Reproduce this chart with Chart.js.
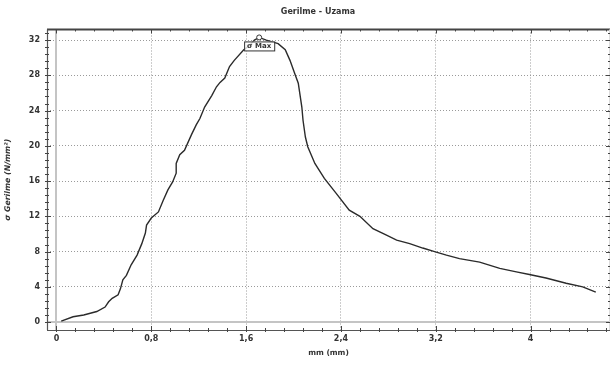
<!DOCTYPE html>
<html>
<head>
<meta charset="utf-8">
<title>Gerilme - Uzama</title>
<script src="https://cdn.jsdelivr.net/npm/chart.js@4.4.1/dist/chart.umd.min.js"></script>
<style>
  html, body { margin: 0; padding: 0; background: #fff; }
  #wrap { width: 612px; height: 367px; position: relative; }
</style>
</head>
<body>
<div id="wrap"><canvas id="chart"></canvas></div>
<script>
// uzama (mm) ve gerilme (N/mm²)
const strain = [0.04, 0.14, 0.23, 0.34, 0.41, 0.44, 0.47, 0.52, 0.54, 0.56, 0.59, 0.63, 0.68, 0.72, 0.75, 0.76,
  0.80, 0.86, 0.90, 0.94, 0.98, 1.01, 1.01, 1.04, 1.08, 1.14, 1.18, 1.21, 1.25, 1.31, 1.35, 1.38, 1.42, 1.46,
  1.50, 1.58, 1.63, 1.67, 1.71, 1.77, 1.87, 1.93, 1.97, 2.01, 2.04, 2.07, 2.08, 2.10, 2.12, 2.18, 2.26, 2.36,
  2.47, 2.56, 2.67, 2.78, 2.87, 2.98, 3.09, 3.19, 3.29, 3.40, 3.57, 3.74, 3.88, 3.99, 4.13, 4.30, 4.44, 4.55];
const stress = [0.1, 0.6, 0.8, 1.2, 1.7, 2.3, 2.7, 3.1, 3.8, 4.8, 5.3, 6.5, 7.6, 8.9, 10.1, 11.0,
  11.8, 12.5, 13.8, 15.0, 15.9, 16.9, 18.0, 19.0, 19.5, 21.3, 22.4, 23.1, 24.4, 25.7, 26.7, 27.2, 27.7, 29.0,
  29.7, 30.9, 31.4, 32.0, 32.3, 32.0, 31.6, 30.9, 29.7, 28.2, 27.1, 24.4, 22.9, 21.0, 19.9, 18.0, 16.3, 14.6,
  12.7, 12.0, 10.6, 9.9, 9.3, 8.9, 8.4, 8.0, 7.6, 7.2, 6.8, 6.1, 5.7, 5.4, 5.0, 4.4, 4.0, 3.4];

const xTicks = [0, 0.8, 1.6, 2.4, 3.2, 4];
const yTicks = [0, 4, 8, 12, 16, 20, 24, 28, 32];
const chartTitle = "Gerilme - Uzama";
const maxLabel = "σ Max";

const fontFam = "'DejaVu Sans', Verdana, sans-serif";
const points = strain.map((x, i) => ({ x: x, y: stress[i] }));

// cerceve, sifir cizgileri, ara cizgiler
const framePlugin = {
  id: "frame",
  beforeDatasetsDraw(chart) {
    const { ctx, chartArea: a, scales: { x, y } } = chart;
    ctx.save();
    ctx.strokeStyle = "#c4c4c4";
    ctx.lineWidth = 2;
    ctx.beginPath();
    const x0 = Math.round(x.getPixelForValue(0));
    const y0 = Math.round(y.getPixelForValue(0));
    ctx.moveTo(x0, a.top); ctx.lineTo(x0, a.bottom);
    ctx.moveTo(a.left, y0); ctx.lineTo(a.right, y0);
    ctx.stroke();
    ctx.restore();
  },
  afterDraw(chart) {
    const { ctx, chartArea: a, scales: { x, y } } = chart;
    ctx.save();
    // baslik
    ctx.fillStyle = "#333";
    ctx.font = "bold 8px " + fontFam;
    ctx.textAlign = "center";
    ctx.textBaseline = "middle";
    ctx.fillText(chartTitle, 318, 12);

    // ust cizgi
    ctx.strokeStyle = "#444";
    ctx.lineWidth = 2;
    ctx.beginPath();
    ctx.moveTo(a.left, a.top); ctx.lineTo(a.right, a.top);
    ctx.stroke();
    ctx.lineWidth = 1.2;
    ctx.strokeStyle = "#555";
    ctx.beginPath();
    ctx.moveTo(a.left + 0.5, a.top); ctx.lineTo(a.left + 0.5, a.bottom);
    ctx.moveTo(a.left, a.bottom + 0.5); ctx.lineTo(a.right, a.bottom + 0.5);
    ctx.stroke();
    ctx.strokeStyle = "#ddd";
    ctx.lineWidth = 1;
    ctx.beginPath();
    ctx.moveTo(a.right - 0.5, a.top); ctx.lineTo(a.right - 0.5, a.bottom);
    ctx.stroke();

    // isaret cizgileri
    ctx.strokeStyle = "#444";
    ctx.lineWidth = 1;
    ctx.beginPath();
    for (let v = 0; v <= x.max + 0.001; v += 0.16) {
      const px = Math.round(x.getPixelForValue(v)) + 0.5;
      if (px < a.left || px > a.right) continue;
      const major = Math.abs(v / 0.8 - Math.round(v / 0.8)) < 0.01;
      const len = major ? 4 : 2;
      ctx.moveTo(px, a.bottom - len); ctx.lineTo(px, a.bottom + 2);
      ctx.moveTo(px, a.top); ctx.lineTo(px, a.top + len);
    }
    for (let v = 0; v <= y.max + 0.001; v += 0.8) {
      const py = Math.round(y.getPixelForValue(v)) + 0.5;
      if (py < a.top || py > a.bottom) continue;
      const major = Math.abs(v / 4 - Math.round(v / 4)) < 0.01;
      const len = major ? 4 : 2;
      ctx.moveTo(a.left - 2, py); ctx.lineTo(a.left + len, py);
      ctx.moveTo(a.right - len, py); ctx.lineTo(a.right, py);
    }
    ctx.stroke();

    // maksimum noktasi
    const meta = chart.getDatasetMeta(0);
    let mi = 0;
    stress.forEach((v, i) => { if (v > stress[mi]) mi = i; });
    const pt = meta.data[mi];
    ctx.fillStyle = "#fff";
    ctx.strokeStyle = "#333";
    ctx.lineWidth = 1;
    ctx.beginPath();
    ctx.arc(pt.x, pt.y, 2.5, 0, Math.PI * 2);
    ctx.fill();
    ctx.stroke();
    ctx.font = "bold 7px " + fontFam;
    const w = ctx.measureText(maxLabel).width + 6;
    const ly = pt.y + 9;
    ctx.fillStyle = "rgba(255,255,255,0.8)";
    ctx.fillRect(pt.x - w / 2, ly - 5, w, 10);
    ctx.strokeRect(pt.x - w / 2 + 0.5, ly - 4.5, w, 9);
    ctx.fillStyle = "#333";
    ctx.fillText(maxLabel, pt.x, ly);
    ctx.restore();
  }
};

new Chart(document.getElementById("chart"), {
  type: "scatter",
  data: {
    datasets: [{
      data: points,
      showLine: true,
      borderColor: "#2b2b2b",
      borderWidth: 1.4,
      pointRadius: 0,
      tension: 0
    }]
  },
  options: {
    responsive: true,
    maintainAspectRatio: false,
    animation: false,
    layout: { padding: { left: 0, right: 2, top: 29.5, bottom: 0 } },
    plugins: {
      legend: { display: false },
      tooltip: { enabled: false },
      title: { display: false }
    },
    scales: {
      x: {
        type: "linear",
        min: -0.08,
        max: 4.67,
        afterBuildTicks: s => { s.ticks = xTicks.map(v => ({ value: v })); },
        afterFit: s => { s.height = 37; },
        ticks: {
          color: "#333",
          padding: 4,
          font: { family: fontFam, size: 8, weight: "bold" },
          callback: v => String(Math.round(v * 10) / 10).replace(".", ",")
        },
        grid: { color: "#9a9a9a", drawTicks: false, lineWidth: 1 },
        border: { display: false, dash: [1, 2] },
        title: {
          display: true,
          text: "mm (mm)",
          color: "#333",
          font: { family: fontFam, size: 7.5, weight: "bold" },
          padding: { top: 0, bottom: 9 }
        }
      },
      y: {
        type: "linear",
        min: -0.9,
        max: 33.2,
        afterBuildTicks: s => { s.ticks = yTicks.map(v => ({ value: v })); },
        afterFit: s => { s.width = 47; },
        ticks: {
          color: "#333",
          padding: 7,
          font: { family: fontFam, size: 8, weight: "bold" }
        },
        grid: { color: "#9a9a9a", drawTicks: false, lineWidth: 1 },
        border: { display: false, dash: [1, 2] },
        title: {
          display: true,
          text: "σ Gerilme (N/mm²)",
          color: "#333",
          font: { family: fontFam, size: 7.8, weight: "bold", style: "italic" },
          padding: { top: 3, bottom: 0 }
        }
      }
    }
  },
  plugins: [framePlugin]
});
</script>
</body>
</html>
